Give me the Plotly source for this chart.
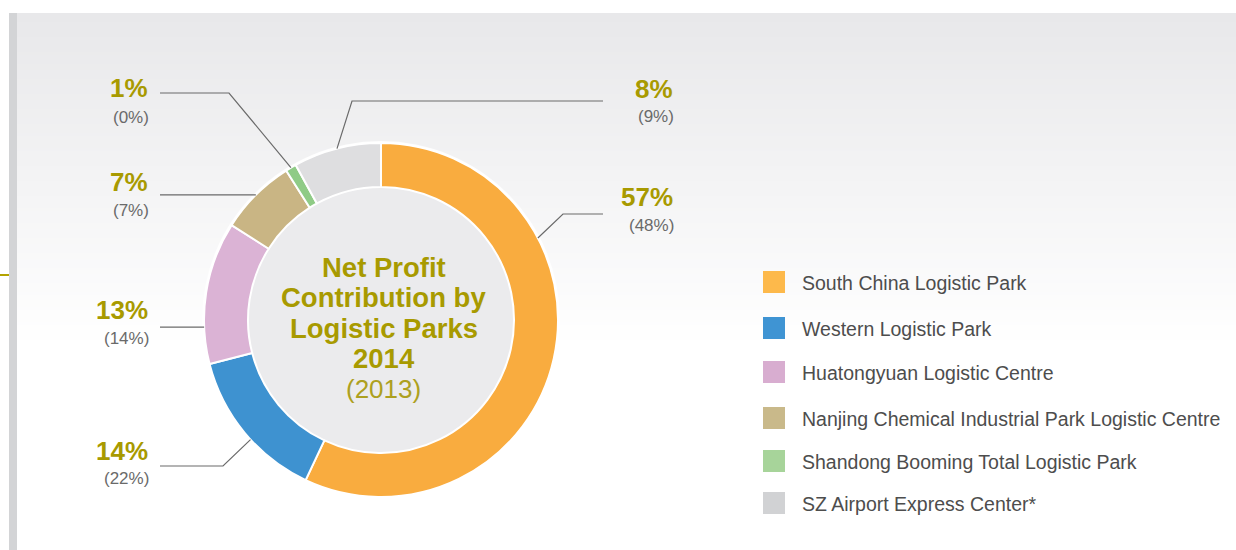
import math
import plotly.graph_objects as go

# ---------------- data ----------------
labels = ["South China Logistic Park", "Western Logistic Park", "Huatongyuan Logistic Centre",
          "Nanjing Chemical Industrial Park Logistic Centre", "Shandong Booming Total Logistic Park",
          "SZ Airport Express Center*"]
share_2014 = [57, 14, 13, 7, 1, 8]
share_2013 = [48, 22, 14, 7, 0, 9]
center_title = ["Net Profit", "Contribution by", "Logistic Parks", "2014"]
center_sub = "(2013)"

# ---------------- style ----------------
ring_colors = ["#F9AC3F", "#3E92D0", "#DBB3D5", "#C9B584", "#8FCB86", "#DEDEE0"]
legend_colors = ["#FDB94B", "#3F94D3", "#D8ADD0", "#C9B98A", "#A7D49A", "#D1D2D4"]
OLIVE = "#A89A00"
GREY_TXT = "#6a6a6a"
W, H = 1236, 550
CX, CY, R, R_IN = 381, 320, 177, 133

def px(x):
    return x / W

def py(y):
    return 1 - y / H

# label layout: (side, big-text y, small-text y, line y, elbow x, leader angle)
label_layout = [
    ("R", 197, 225, 214, 563, 62.4),
    ("L", 451, 478, 466, 223, 227.5),
    ("L", 310, 338, None, None, 267.7),
    ("L", 182, 210, None, None, 315.0),
    ("L", 88, 117, 93, 229, 329.4),
    ("R", 89, 116, 101, 352, 345.6),
]

fig = go.Figure()

fig.add_trace(go.Pie(
    labels=labels,
    values=share_2014,
    sort=False,
    direction="clockwise",
    rotation=0,
    hole=R_IN / R,
    marker=dict(colors=ring_colors, line=dict(color="white", width=2)),
    textinfo="none",
    hoverinfo="label+percent",
    showlegend=False,
    domain=dict(x=[px(CX - R), px(CX + R)], y=[py(CY + R), py(CY - R)]),
))

shapes = []
# background gradient (top grey fading to white)
y0, y1 = 13, 345
step = 3
top_c = (232, 232, 234)
yy = y0
while yy < y1:
    t = (yy - y0) / (y1 - y0)
    c = tuple(int(round(top_c[i] + (255 - top_c[i]) * t)) for i in range(3))
    shapes.append(dict(type="rect", xref="paper", yref="paper", layer="below",
                       x0=px(17), x1=1, y0=py(min(yy + step + 1, y1)), y1=py(yy),
                       fillcolor="rgb(%d,%d,%d)" % c, line=dict(width=0)))
    yy += step
# left vertical bar
shapes.append(dict(type="rect", xref="paper", yref="paper", layer="below",
                   x0=px(9), x1=px(17), y0=0, y1=py(13),
                   fillcolor="#D3D4D6", line=dict(width=0)))
# small gold tick
shapes.append(dict(type="line", xref="paper", yref="paper", layer="below",
                   x0=0, x1=px(9), y0=py(275), y1=py(275),
                   line=dict(color="#B3A300", width=2)))
# outer soft white rim
shapes.append(dict(type="circle", xref="paper", yref="paper", layer="below",
                   x0=px(CX - R - 2), x1=px(CX + R + 2), y0=py(CY + R + 2), y1=py(CY - R - 2),
                   fillcolor="rgba(255,255,255,0.9)", line=dict(width=0)))
# hole fill
shapes.append(dict(type="circle", xref="paper", yref="paper", layer="below",
                   x0=px(CX - R_IN - 1), x1=px(CX + R_IN + 1), y0=py(CY + R_IN + 1), y1=py(CY - R_IN - 1),
                   fillcolor="#EBEBED", line=dict(width=0)))

annotations = []
for i, (side, by, sy, ly, ex, ang) in enumerate(label_layout):
    a = math.radians(ang)
    rx = CX + R * math.sin(a)
    ry = CY - R * math.cos(a)
    if side == "L":
        tx, xs = 150, 160
    else:
        tx, xs = 675, 603
    if ly is None:
        pts = [(xs, ry), (rx, ry)]
    else:
        pts = [(xs, ly), (ex, ly), (rx, ry)]
    path = "M " + " L ".join("%.5f,%.5f" % (px(x), py(y)) for x, y in pts)
    shapes.append(dict(type="path", xref="paper", yref="paper", path=path,
                       line=dict(color=GREY_TXT, width=1.2)))
    annotations.append(dict(x=px(tx), y=py(by), xref="paper", yref="paper",
                            xanchor="right", yanchor="middle", showarrow=False,
                            text="<b>%d%%</b>" % share_2014[i],
                            font=dict(family="Liberation Sans, Arial", size=26, color=OLIVE)))
    annotations.append(dict(x=px(tx + 1), y=py(sy), xref="paper", yref="paper",
                            xanchor="right", yanchor="middle", showarrow=False,
                            text="(%d%%)" % share_2013[i],
                            font=dict(family="Liberation Sans, Arial", size=17, color=GREY_TXT)))

# centre text
line_y = [267, 297, 328, 358]
for t, yv in zip(center_title, line_y):
    annotations.append(dict(x=px(384), y=py(yv), xref="paper", yref="paper",
                            xanchor="center", yanchor="middle", showarrow=False,
                            text="<b>%s</b>" % t,
                            font=dict(family="Liberation Sans, Arial", size=27.5, color=OLIVE)))
annotations.append(dict(x=px(384), y=py(389), xref="paper", yref="paper",
                        xanchor="center", yanchor="middle", showarrow=False,
                        text=center_sub,
                        font=dict(family="Liberation Sans, Arial", size=26, color="#ADA020")))

# custom legend
leg_y = [282, 328, 372, 418, 461, 503]
for lab, col, yv in zip(labels, legend_colors, leg_y):
    shapes.append(dict(type="rect", xref="paper", yref="paper",
                       x0=px(763), x1=px(785), y0=py(yv + 11), y1=py(yv - 11),
                       fillcolor=col, line=dict(width=0)))
    annotations.append(dict(x=px(800), y=py(yv + 1), xref="paper", yref="paper",
                            xanchor="left", yanchor="middle", showarrow=False,
                            text=lab,
                            font=dict(family="Liberation Sans, Arial", size=19.5, color="#4d4d4d")))

fig.update_layout(
    width=W, height=H,
    margin=dict(l=0, r=0, t=0, b=0),
    paper_bgcolor="white",
    plot_bgcolor="white",
    shapes=shapes,
    annotations=annotations,
    showlegend=False,
)

fig.write_html("out.html", config={"displayModeBar": False})
